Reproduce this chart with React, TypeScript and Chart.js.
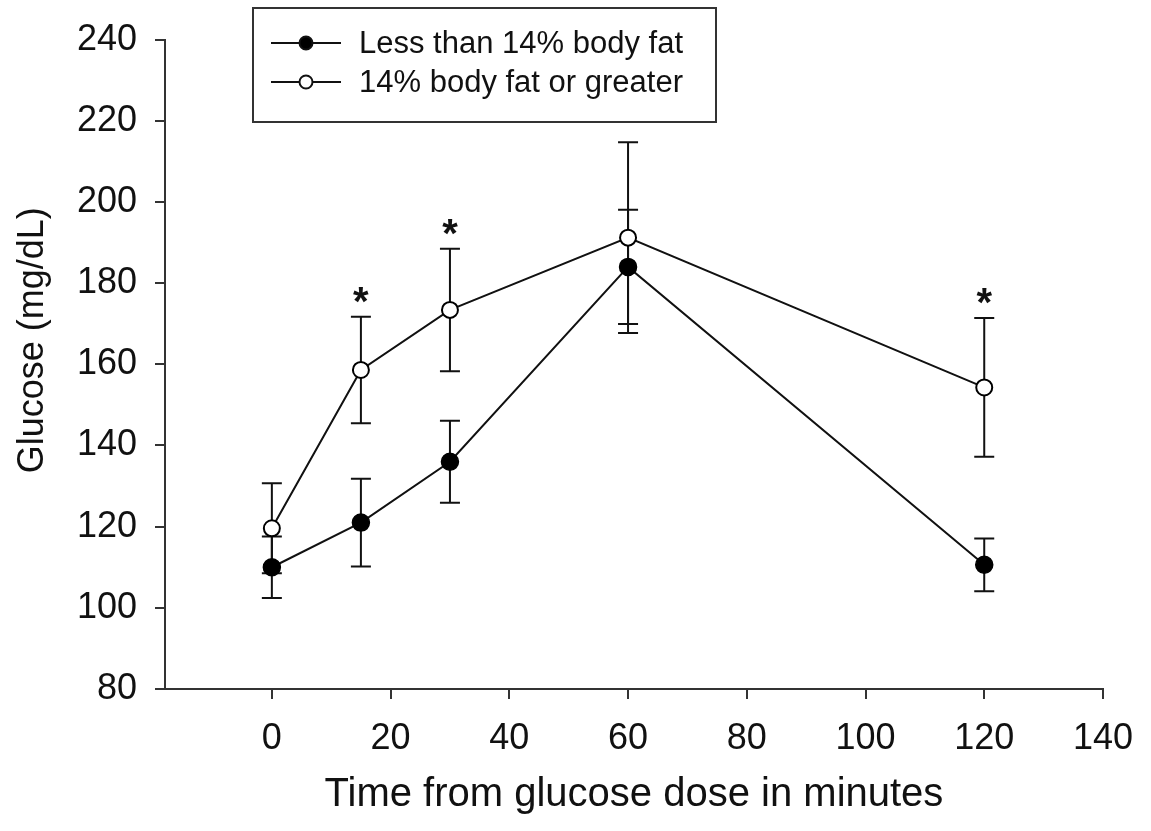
import React, { useEffect, useRef } from 'react';
import { Chart, registerables } from 'chart.js';

Chart.register(...registerables);

// ---- Data ----
const times = [0, 15, 30, 60, 120];
const leanMean = [110, 121, 136, 184, 110.6];
const leanSem = [7.6, 10.8, 10.1, 14.1, 6.5];
const heavyMean = [119.6, 158.6, 173.4, 191.2, 154.3];
const heavySem = [11.1, 13.1, 15.1, 23.5, 17.1];
const sigTimes = [15, 30, 120];
const xTicks = [0, 20, 40, 60, 80, 100, 120, 140];
const yTicks = [80, 100, 120, 140, 160, 180, 200, 220, 240];
const seriesLabels = ['Less than 14% body fat', '14% body fat or greater'];
const xTitle = 'Time from glucose dose in minutes';
const yTitle = 'Glucose (mg/dL)';

const FONT = "'Liberation Sans', Arial, Helvetica, sans-serif";
const INK = '#111';

const errorBarPlugin = {
  id: 'errorBars',
  beforeDatasetsDraw(chart: any) {
    const ctx = chart.ctx;
    const xs = chart.scales.x;
    const ys = chart.scales.y;
    ctx.save();
    ctx.strokeStyle = INK;
    ctx.lineWidth = 2;
    chart.data.datasets.forEach((ds: any) => {
      ds.data.forEach((p: any, j: number) => {
        const e = ds.errors[j];
        const x = xs.getPixelForValue(p.x);
        const yT = ys.getPixelForValue(p.y + e);
        const yB = ys.getPixelForValue(p.y - e);
        ctx.beginPath();
        ctx.moveTo(x, yT);
        ctx.lineTo(x, yB);
        ctx.moveTo(x - 10, yT);
        ctx.lineTo(x + 10, yT);
        ctx.moveTo(x - 10, yB);
        ctx.lineTo(x + 10, yB);
        ctx.stroke();
      });
    });
    ctx.restore();
  },
};

const overlayPlugin = {
  id: 'overlay',
  afterDatasetsDraw(chart: any) {
    const ctx = chart.ctx;
    const xs = chart.scales.x;
    const ys = chart.scales.y;
    const area = chart.chartArea;
    ctx.save();
    // significance asterisks above the upper error bar of the open series
    ctx.fillStyle = INK;
    ctx.font = `bold 40px ${FONT}`;
    ctx.textAlign = 'center';
    ctx.textBaseline = 'alphabetic';
    sigTimes.forEach((t) => {
      const j = times.indexOf(t);
      const x = xs.getPixelForValue(t);
      const y = ys.getPixelForValue(heavyMean[j] + heavySem[j]);
      ctx.fillText('*', x, y - 2);
    });

    // y-axis title
    ctx.save();
    ctx.translate(33, (area.top + area.bottom) / 2 - 24);
    ctx.rotate(-Math.PI / 2);
    ctx.font = `36px ${FONT}`;
    ctx.fillStyle = '#111';
    ctx.textAlign = 'center';
    ctx.textBaseline = 'middle';
    ctx.fillText(yTitle, 0, 0);
    ctx.restore();

    // legend box
    const bx = area.left + 88;
    const by = 8;
    const bw = 463;
    const bh = 114;
    ctx.lineWidth = 2;
    ctx.strokeStyle = '#333';
    ctx.fillStyle = '#fff';
    ctx.fillRect(bx, by, bw, bh);
    ctx.strokeRect(bx, by, bw, bh);
    const rows = [by + 35, by + 74];
    chart.data.datasets.forEach((ds: any, i: number) => {
      const y = rows[i];
      ctx.strokeStyle = INK;
      ctx.lineWidth = 2;
      ctx.beginPath();
      ctx.moveTo(bx + 18, y);
      ctx.lineTo(bx + 88, y);
      ctx.stroke();
      ctx.beginPath();
      ctx.arc(bx + 53, y, 6.5, 0, Math.PI * 2);
      ctx.fillStyle = ds.pointBackgroundColor;
      ctx.fill();
      ctx.stroke();
      ctx.fillStyle = '#111';
      ctx.font = `31px ${FONT}`;
      ctx.textAlign = 'left';
      ctx.textBaseline = 'middle';
      ctx.fillText(ds.label, bx + 106, y + 1);
    });
    ctx.restore();
  },
};

export default function App() {
  const ref = useRef<HTMLCanvasElement | null>(null);

  useEffect(() => {
    document.body.style.margin = '0';
    const canvas = ref.current;
    if (!canvas) return;
    const mk = (m: number[]) => times.map((t, i) => ({ x: t, y: m[i] }));
    const chart = new Chart(canvas, {
      type: 'line',
      data: {
        datasets: [
          {
            label: seriesLabels[0],
            data: mk(leanMean),
            errors: leanSem,
            borderColor: INK,
            borderWidth: 2,
            pointBackgroundColor: '#000',
            pointBorderColor: '#000',
            pointBorderWidth: 1.5,
            pointRadius: 8.5,
            tension: 0,
            fill: false,
          } as any,
          {
            label: seriesLabels[1],
            data: mk(heavyMean),
            errors: heavySem,
            borderColor: INK,
            borderWidth: 2,
            pointBackgroundColor: '#fff',
            pointBorderColor: '#000',
            pointBorderWidth: 2,
            pointRadius: 8,
            tension: 0,
            fill: false,
          } as any,
        ],
      },
      options: {
        animation: false,
        responsive: false,
        layout: { padding: { left: 0, top: 31, right: 45, bottom: 0 } },
        plugins: {
          legend: { display: false },
          tooltip: { enabled: false },
        },
        scales: {
          x: {
            type: 'linear',
            min: -18,
            max: 140,
            afterBuildTicks: (s: any) => {
              s.ticks = xTicks.map((v) => ({ value: v }));
            },
            afterFit: (s: any) => {
              s.height = 142;
            },
            grid: { drawOnChartArea: false, drawTicks: true, tickLength: 10, color: '#333', lineWidth: 2 },
            border: { display: true, color: '#333', width: 2 },
            ticks: {
              font: { family: FONT, size: 36 },
              color: '#111',
              padding: 18,
              maxRotation: 0,
              autoSkip: false,
            },
            title: {
              display: true,
              text: xTitle,
              font: { family: FONT, size: 40 },
              color: '#111',
              padding: { top: 0, bottom: 12 },
            },
          },
          y: {
            type: 'linear',
            min: 80,
            max: 240,
            afterBuildTicks: (s: any) => {
              s.ticks = yTicks.map((v) => ({ value: v }));
            },
            afterFit: (s: any) => {
              s.width = 165;
            },
            grid: { drawOnChartArea: false, drawTicks: true, tickLength: 10, color: '#333', lineWidth: 2 },
            border: { display: true, color: '#333', width: 2 },
            ticks: {
              font: { family: FONT, size: 36 },
              color: '#111',
              padding: 18,
              autoSkip: false,
            },
            title: { display: false },
          },
        },
      } as any,
      plugins: [errorBarPlugin, overlayPlugin],
    });
    return () => chart.destroy();
  }, []);

  return (
    <div style={{ width: 1151, height: 831, background: '#fff' }}>
      <canvas ref={ref} width={1151} height={831} style={{ display: 'block' }} />
    </div>
  );
}
